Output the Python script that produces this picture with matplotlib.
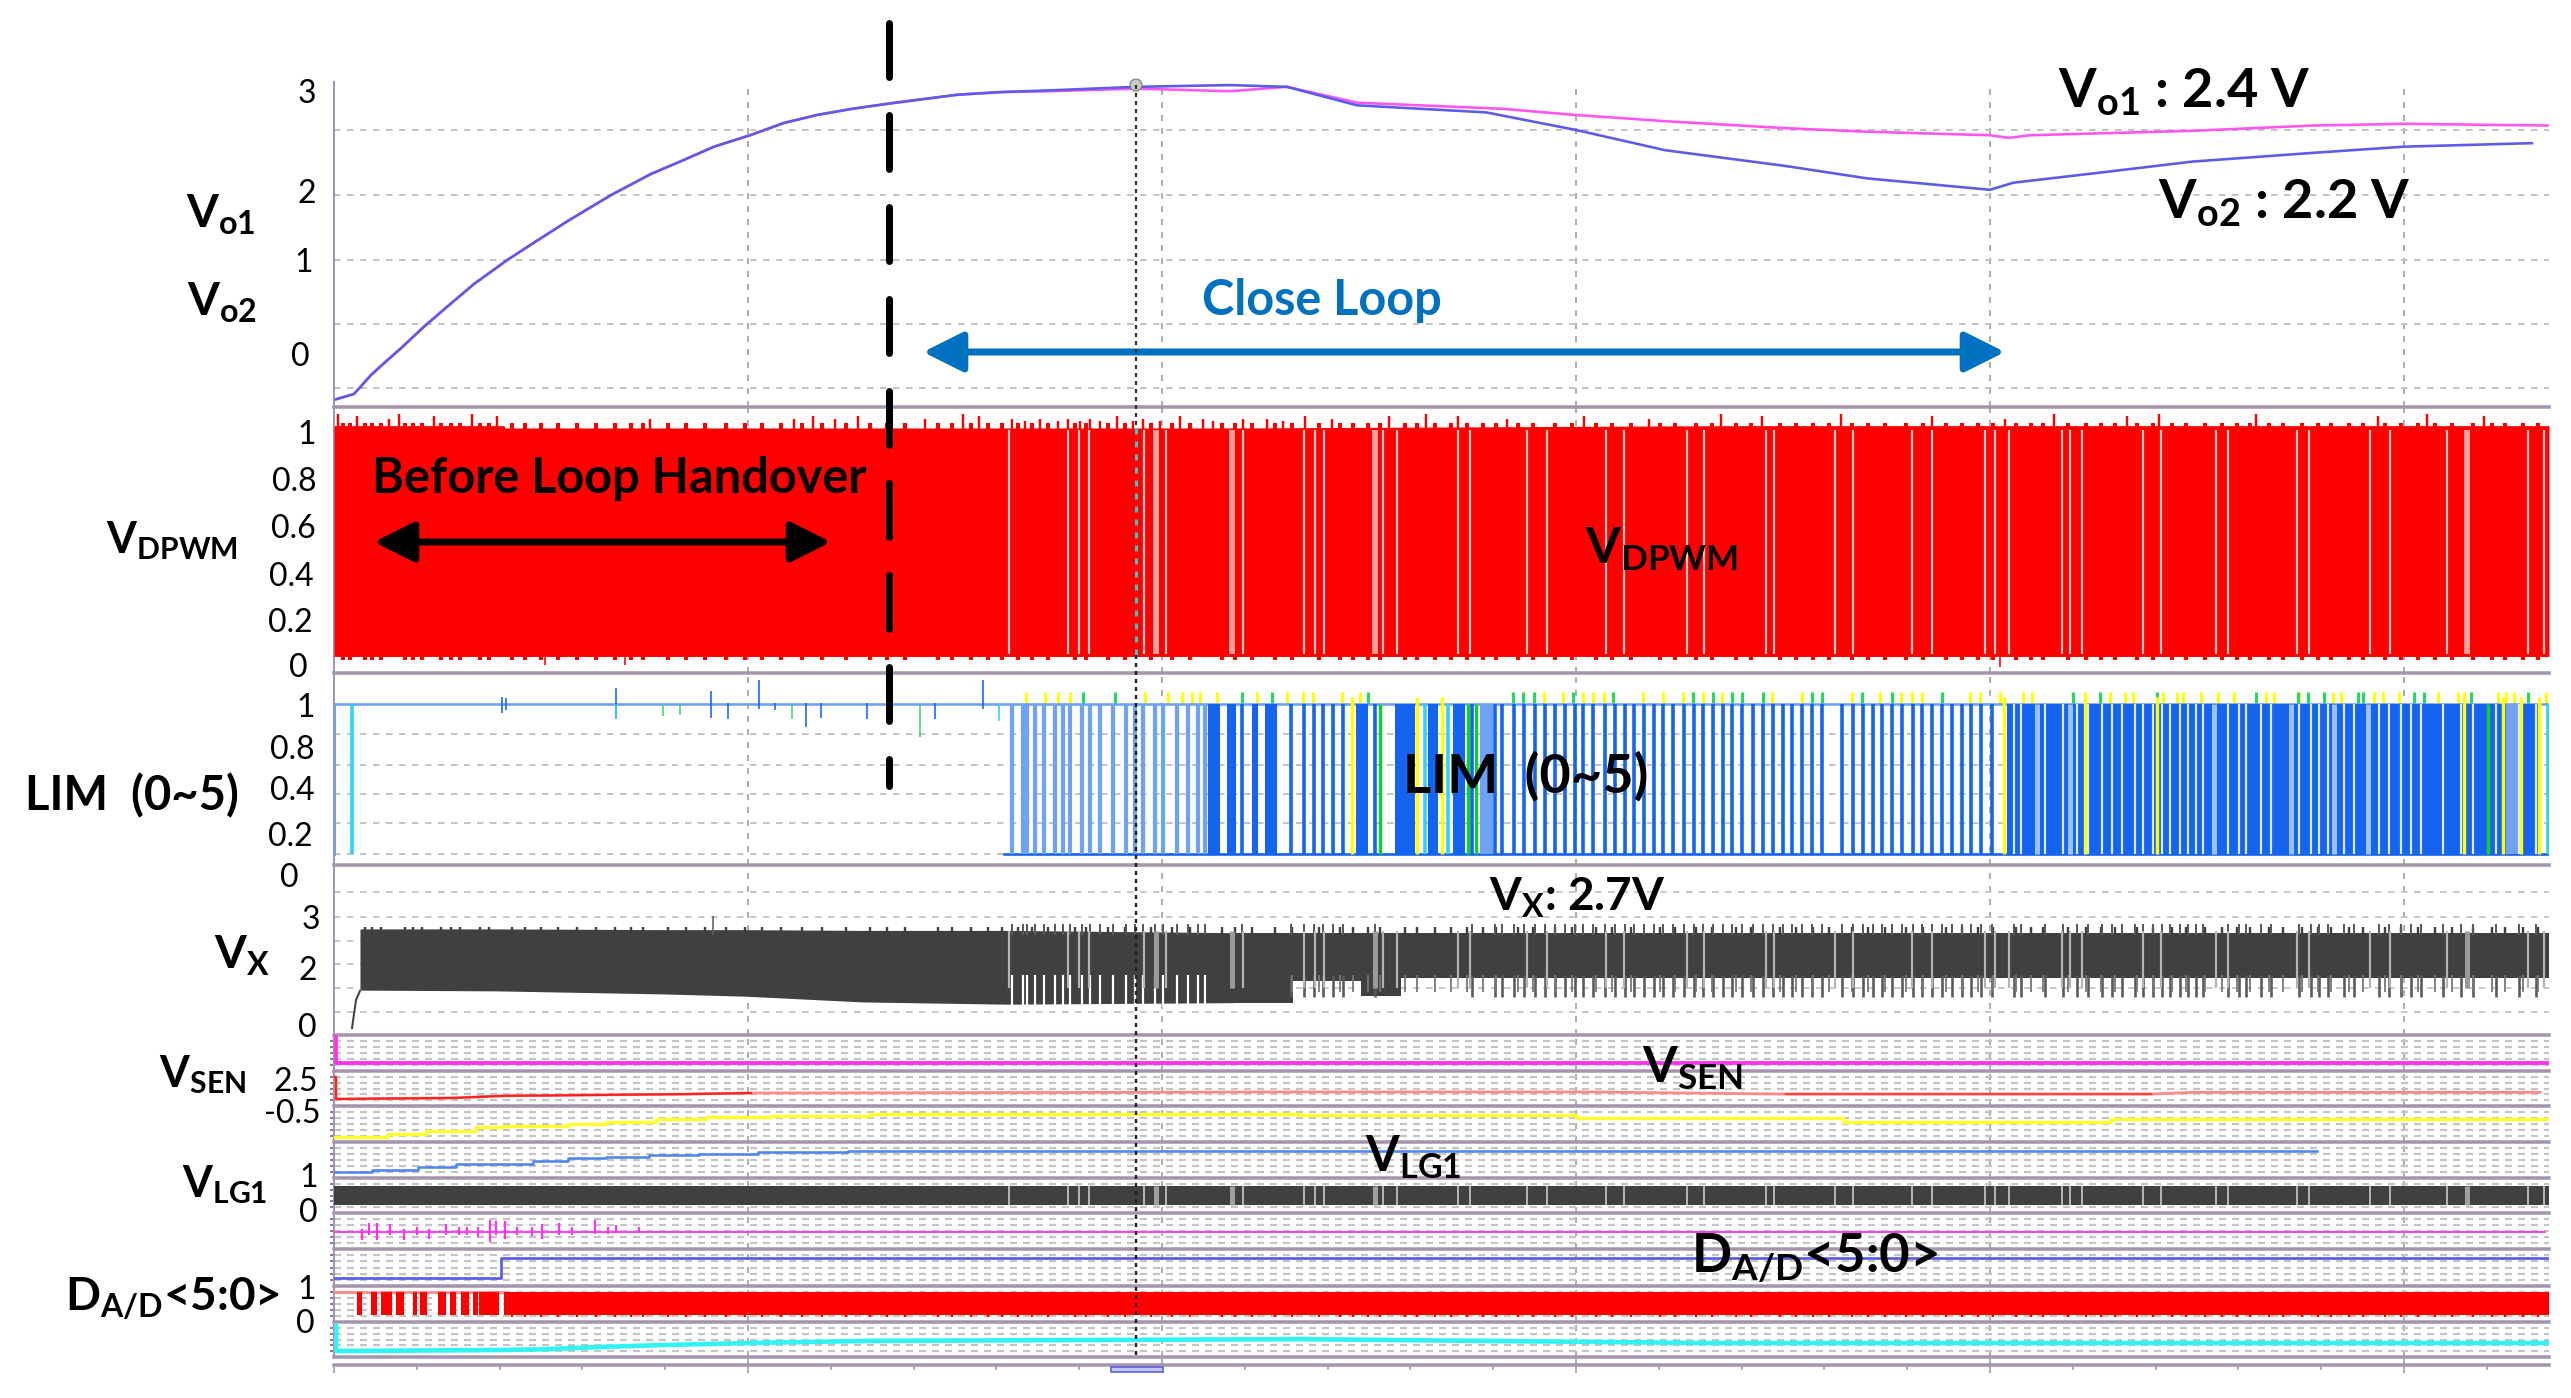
#!/usr/bin/env python3
"""Start-up waveforms of the dual output converter (scope capture with annotations)."""

import matplotlib
matplotlib.use("Agg")
import matplotlib.pyplot as plt
from matplotlib.patches import Circle, FancyArrowPatch, Rectangle
from matplotlib.ticker import MultipleLocator

W, H = 2571, 1398
PX = 0.72  # one pixel in points at dpi 100
LEFT, RIGHT = 334, 2549
SPAN = RIGHT - LEFT
MAJOR = 414

plt.rcParams["font.family"] = ["Lato", "DejaVu Sans"]
plt.rcParams["mathtext.fontset"] = "custom"
plt.rcParams["mathtext.rm"] = "Lato:bold"
plt.rcParams["mathtext.default"] = "rm"
plt.rcParams["lines.scale_dashes"] = False

# ---- data (time axis is in 1/414 of a division) ----
rise_t = [2, 20, 37, 50, 67, 90, 113, 140, 173, 200, 233, 277, 317, 350, 380, 416, 450, 483, 518, 555, 623, 666]
rise_v = [-0.48, -0.42, -0.205, -0.07, 0.10, 0.345, 0.57, 0.83, 1.10, 1.30, 1.54, 1.84, 2.08, 2.24, 2.39, 2.52, 2.66, 2.75, 2.82, 2.88, 2.98, 3.01]
vo2_t = [716, 802, 896, 953, 1023, 1152, 1242, 1331, 1452, 1533, 1656, 1679, 1777, 1858, 1979, 2070, 2198]
vo2_v = [3.03, 3.07, 3.09, 3.07, 2.86, 2.78, 2.58, 2.35, 2.17, 2.03, 1.90, 1.98, 2.11, 2.22, 2.32, 2.39, 2.43]
vo1_t = [716, 802, 896, 953, 1023, 1169, 1242, 1331, 1452, 1533, 1656, 1675, 1696, 1858, 1979, 2070, 2215]
vo1_v = [3.02, 3.05, 3.02, 3.07, 2.89, 2.82, 2.75, 2.68, 2.60, 2.56, 2.52, 2.49, 2.52, 2.57, 2.63, 2.65, 2.63]
vo_grid = [2.58, 1.84, 1.1, 0.375, -0.35]

pwm_edge_t = [0, 170, 171, 900, 1400, 2215]
pwm_top = [1.04, 1.04, 1.03, 1.03, 1.04, 1.04]
pwm_bottom = [0.05, 0.05, 0.05, 0.05, 0.05, 0.05]
pwm_gaps = [675, 734, 745, 755, 810, 832, 909, 970, 981, 990, 1049, 1063, 1124, 1136, 1193, 1213,
            1272, 1290, 1353, 1370, 1432, 1440, 1501, 1519, 1578, 1598, 1651, 1661, 1675, 1728,
            1736, 1748, 1809, 1827, 1882, 1894, 1963, 1975, 2036, 2056, 2113, 2194, 2210]
pwm_pale_gaps = [822, 898, 1041, 2133]
pwm_spike_t = [4, 23, 55, 65, 100, 138, 163, 316, 460, 479, 501, 524, 591, 629, 645, 678, 691, 706,
               724, 734, 746, 756, 766, 783, 799, 809, 826, 846, 869, 879, 909, 933, 949, 971, 998,
               1055, 1092, 1124, 1173, 1250, 1315, 1387, 1428, 1507, 1598, 1671, 1720, 1793, 1825,
               1922, 2044, 2093, 2150]
pwm_spike_v = [1.09, 1.08, 1.07, 1.09, 1.08, 1.09, 1.08, 1.07, 1.07, 1.08, 1.07, 1.08, 1.07, 1.09,
               1.08, 1.07, 1.06, 1.07, 1.06, 1.07, 1.06, 1.07, 1.06, 1.08, 1.06, 1.07, 1.06, 1.08,
               1.07, 1.06, 1.07, 1.07, 1.06, 1.08, 1.07, 1.08, 1.09, 1.08, 1.07, 1.08, 1.07, 1.09,
               1.08, 1.09, 1.08, 1.07, 1.09, 1.08, 1.09, 1.09, 1.08, 1.09, 1.08]
pwm_fuzz_t = [9, 16, 31, 38, 47, 71, 79, 88, 107, 117, 126, 146, 155, 178, 191, 207, 224, 243, 262,
              281, 297, 309, 334, 352, 371, 392, 411, 428, 447, 468, 488, 512, 536, 553, 571, 604,
              618, 637, 654, 668, 684, 698, 714, 741, 752, 774, 791, 817, 838, 856, 888, 901, 918,
              941, 958, 985, 1006, 1019, 1034, 1046, 1071, 1083, 1101, 1117, 1133, 1149, 1162, 1184,
              1199, 1221, 1238, 1262, 1278, 1297, 1326, 1341, 1362, 1378, 1402, 1417, 1446, 1462,
              1479, 1495, 1518, 1534, 1551, 1572, 1589, 1612, 1628, 1644, 1659, 1682, 1697, 1709,
              1734, 1752, 1767, 1781, 1803, 1819, 1838, 1852, 1871, 1888, 1903, 1916, 1935, 1949,
              1968, 1984, 1997, 2015, 2029, 2051, 2067, 2084, 2101, 2118, 2139, 2158, 2171, 2189, 2204]
pwm_dip_t = [211, 291, 1666]
pwm_dip_v = [0.013, 0.013, 0.005]

lim_grid = [0.0, 0.207, 0.4, 0.593, 0.8]
lim_pale = [678, 689, 693, 701, 710, 721, 729, 736, 748, 756, 766, 779, 792, 801, 809, 821, 829,
            843, 854, 864, 871]
lim_strong = [908, 957, 970, 980, 989, 999, 1009, 1041, 1138, 1161, 1168, 1180, 1190, 1201, 1211,
              1221, 1231, 1241, 1249, 1259, 1271, 1281, 1291, 1300, 1310, 1320, 1329, 1339, 1350,
              1360, 1369, 1379, 1389, 1398, 1408, 1419, 1429, 1439, 1449, 1458, 1468, 1478, 1488,
              1508, 1519, 1529, 1539, 1548, 1558, 1568, 1579, 1588, 1598, 1608, 1618, 1628, 1637,
              1647, 1658]
lim_solid_start = [874, 893, 918, 931, 1022, 1061, 1094, 1119, 1673]
lim_solid_end = [886, 902, 924, 943, 1034, 1081, 1104, 1131, 2205]
lim_pale_start = [1146, 2172]
lim_pale_end = [1159, 2184]
lim_gaps = [1680, 1687, 1711, 1729, 1743, 1754, 1768, 1778, 1788, 1801, 1809, 1819, 1828, 1836,
            1846, 1854, 1862, 1869, 1894, 1905, 1912, 1927, 1937, 1965, 1977, 1985, 1994, 2010,
            2020, 2045, 2055, 2067, 2077, 2087, 2109, 2127, 2139, 2162, 2185, 2202]
lim_soft_gaps = [1703, 1736, 1880, 1957, 2000, 2034]
lim_yellow = [1018, 1083, 1108, 1670, 1751, 1823, 2130, 2169, 2187, 2205]
lim_green = [1046, 1134, 1142, 2154]
lim_cyan = [18, 1091, 1114, 2214]
tip_yellow = [692, 711, 724, 736, 811, 834, 848, 858, 866, 883, 923, 953, 969, 979, 1008, 1026,
              1189, 1210, 1229, 1249, 1259, 1270, 1309, 1329, 1349, 1359, 1369, 1388, 1438, 1468,
              1518, 1546, 1567, 1578, 1588, 1636, 1646, 1666, 1689, 1698, 1751, 1776, 1791, 1799,
              1829, 1843, 1849, 1867, 1884, 1900, 1932, 1940, 1965, 1999, 2007, 2040, 2049, 2065,
              2104, 2124, 2130, 2164, 2172, 2180, 2212]
tip_green = [749, 781, 908, 938, 1034, 1179, 1189, 1200, 1239, 1279, 1359, 1379, 1398, 1408, 1429,
             1478, 1488, 1528, 1558, 1608, 1739, 1766, 1823, 1922, 1964, 1974, 1990, 2024, 2029,
             2080, 2090, 2137, 2194]
lim_blip_t = [168, 172, 282, 377, 394, 425, 441, 472, 487, 533, 601, 649]
lim_blip_lo = [0.94, 0.96, 0.90, 0.91, 0.90, 0.97, 0.96, 0.85, 0.91, 0.90, 0.90, 0.97]
lim_blip_hi = [1.05, 1.04, 1.11, 1.09, 1.01, 1.16, 1.01, 1.01, 1.01, 1.01, 1.01, 1.16]
lim_green_t = [329, 346, 458, 586]
lim_green_lo = [0.92, 0.93, 0.90, 0.78]
lim_cyan_t = [282, 665]
lim_cyan_lo = [0.90, 0.89]

vx_grid = [3.63, 2.97, 2.34, 1.74, 1.11, 0.47]
vx_start_t = [18, 22, 26]
vx_start_v = [0.05, 0.79, 1.03]
vx_t = [26, 163, 329, 412, 528, 673, 900]
vx_low = [1.05, 1.03, 0.95, 0.89, 0.74, 0.68, 0.72]
vx_high = [2.66, 2.66, 2.64, 2.64, 2.62, 2.62, 2.56]
vx_late_t = [900, 959, 1027, 1067, 2215]
vx_late_low = [0.72, 1.30, 0.89, 1.37, 1.37]
vx_late_high = [2.56, 2.56, 2.56, 2.56, 2.56]

sen_t = [0, 2, 2, 2215]
sen_v = [0.95, 0.95, 0.22, 0.22]
red_t = [0, 2, 2, 119, 169, 353, 417, 966, 1258, 1452, 1817, 1858, 2206]
red_v = [0.83, 0.83, 0.20, 0.23, 0.29, 0.34, 0.37, 0.40, 0.40, 0.34, 0.34, 0.39, 0.39]
yellow_t = [0, 38, 54, 92, 142, 169, 234, 272, 322, 372, 437, 536, 966, 1242, 1509, 1777, 2215]
yellow_v = [0.14, 0.14, 0.22, 0.30, 0.42, 0.44, 0.50, 0.55, 0.64, 0.69, 0.72, 0.78, 0.75, 0.67, 0.55, 0.64, 0.67]
lg_level_t = [0, 38, 84, 122, 199, 234, 272, 315, 365, 424, 514, 1983]
lg_level_v = [0.17, 0.22, 0.31, 0.39, 0.47, 0.56, 0.58, 0.64, 0.67, 0.72, 0.75, 0.75]
lg_band = [0.23, 0.77]
noise_t = [28, 35, 43, 56, 70, 83, 95, 112, 125, 133, 144, 156, 162, 171, 183, 198, 208, 225, 238, 261, 274, 282, 305]
noise_lo = [0.25, 0.40, 0.25, 0.38, 0.25, 0.38, 0.27, 0.40, 0.38, 0.40, 0.34, 0.20, 0.38, 0.27, 0.38, 0.36, 0.28, 0.38, 0.40, 0.42, 0.42, 0.44, 0.44]
noise_hi = [0.55, 0.72, 0.72, 0.70, 0.55, 0.60, 0.55, 0.70, 0.60, 0.60, 0.62, 0.80, 0.78, 0.78, 0.62, 0.60, 0.70, 0.72, 0.62, 0.80, 0.62, 0.66, 0.62]
dig_t = [0, 167, 167, 2215]
dig_v = [0.22, 0.22, 0.76, 0.76]
da_band = [0.19, 0.83]
da_burst_start = [23, 37, 47, 62, 79, 86, 104, 116, 127, 139, 145, 170]
da_burst_end = [28, 43, 58, 70, 83, 93, 112, 122, 135, 144, 165, 2215]
cyan_t = [0, 2, 2, 167, 209, 270, 328, 414, 538, 966, 1371, 2215]
cyan_v = [0.90, 0.90, 0.17, 0.20, 0.22, 0.29, 0.34, 0.40, 0.46, 0.51, 0.40, 0.40]

# ---- styles ----
SEP = "#a594ad"
GRID = "#c4c4c4"
DARK = "#404040"
RED = "#ff0000"
ROYAL = "#1464f0"
PALE = "#6ea2f4"
YELLOW = "#ffff00"

fig = plt.figure(figsize=(W / 100, H / 100), dpi=100, facecolor="white")


def panel(top, bottom, ylim, ticks=None):
    ax = fig.add_axes([LEFT / W, 1 - bottom / H, SPAN / W, (bottom - top) / H])
    ax.patch.set_alpha(0)
    ax.set_xlim(0, SPAN)
    ax.set_ylim(*ylim)
    ax.set_xticks([])
    ax.set_yticks([])
    for name in ("top", "right"):
        ax.spines[name].set_visible(False)
    ax.spines["bottom"].set_color(SEP)
    ax.spines["bottom"].set_linewidth(3.5 * PX)
    ax.spines["left"].set_color(SEP)
    ax.spines["left"].set_linewidth(2 * PX)
    for k in range(1, 6):
        ax.axvline(k * MAJOR, color="#9a9a9a", lw=1.6 * PX, ls=(0, (6 * PX, 7 * PX)), zorder=1)
    if ticks:
        ax.set_yticks(ticks, minor=True)
        ax.tick_params(axis="y", which="minor", length=4 * PX, width=2 * PX, color="#8d7a96")
    return ax


def h_grid(ax, levels, on=6.5, off=6.5, lw=2.0):
    for lev in levels:
        ax.axhline(lev, color=GRID, lw=lw * PX, ls=(0, (on * PX, off * PX)), zorder=1)


def spans(ax, starts, ends, low, high, color, z=3):
    for a, b in zip(starts, ends):
        ax.fill_between([a, b], low, high, color=color, lw=0, zorder=z)


# Vo1 / Vo2
ax1 = panel(82, 407, (-0.568, 3.125))
h_grid(ax1, vo_grid)
ax1.plot(rise_t + vo1_t, rise_v + vo1_v, color="#ff55ee", lw=2.6 * PX, zorder=3)
ax1.plot(rise_t + vo2_t, rise_v + vo2_v, color="#5c5cea", lw=2.6 * PX, zorder=4)

# VDPWM
ax2 = panel(407, 673, (-0.021, 1.12))
ax2.fill_between(pwm_edge_t, pwm_bottom, pwm_top, color=RED, lw=0, zorder=3)
ax2.vlines(pwm_spike_t, 1.0, pwm_spike_v, color=RED, lw=2.4 * PX, zorder=3)
ax2.vlines(pwm_fuzz_t, 1.0, 1.052, color=RED, lw=4 * PX, zorder=3)
ax2.vlines(pwm_fuzz_t, 0.035, 0.1, color=RED, lw=4 * PX, zorder=3)
ax2.vlines(pwm_dip_t, pwm_dip_v, 0.1, color=RED, lw=1.6 * PX, zorder=3)
ax2.vlines(pwm_gaps, 0.06, 1.02, color="#ffc8c8", lw=2.2 * PX, zorder=4)
ax2.vlines(pwm_pale_gaps, 0.06, 1.02, color="#ff9c9c", lw=6 * PX, zorder=4)

# LIM
ax3 = panel(673, 865, (-0.073, 1.207))
h_grid(ax3, lim_grid)
ax3.plot([0, SPAN], [1, 1], color="#6ea2f4", lw=2.6 * PX, zorder=3)
ax3.plot([670, SPAN], [0, 0], color=ROYAL, lw=2.6 * PX, zorder=3)
ax3.plot([0, 0], [0, 1], color=PALE, lw=3 * PX, zorder=3)
ax3.vlines(tip_yellow, 1.0, 1.08, color=YELLOW, lw=3 * PX, zorder=2)
ax3.vlines(tip_green, 1.0, 1.08, color="#22dd55", lw=3 * PX, zorder=2)
ax3.vlines(lim_blip_t, lim_blip_lo, lim_blip_hi, color=ROYAL, lw=1.6 * PX, zorder=3)
ax3.vlines(lim_green_t, lim_green_lo, 1.0, color="#33dd66", lw=1.6 * PX, zorder=3)
ax3.vlines(lim_cyan_t, lim_cyan_lo, 1.0, color="#33ccff", lw=1.6 * PX, zorder=3)
ax3.vlines(lim_pale, 0, 1, color=PALE, lw=4.2 * PX, zorder=3)
ax3.vlines(lim_strong, 0, 1, color=ROYAL, lw=3.6 * PX, zorder=3)
spans(ax3, lim_solid_start, lim_solid_end, 0, 1, ROYAL)
spans(ax3, lim_pale_start, lim_pale_end, 0, 1, PALE)
ax3.vlines(lim_soft_gaps, 0, 1, color="#9cc0fa", lw=5 * PX, zorder=4)
ax3.vlines(lim_gaps, 0, 1, color="#dfeaff", lw=2.2 * PX, zorder=4)
ax3.vlines(lim_yellow, 0, 1.05, color=YELLOW, lw=3.4 * PX, zorder=5)
ax3.vlines(lim_green, 0, 1, color="#10d030", lw=3.4 * PX, zorder=5)
ax3.vlines(lim_cyan, 0, 1, color="#30d0ff", lw=3.6 * PX, zorder=5)

# Vx
ax4 = panel(865, 1035, (-0.13, 4.34))
h_grid(ax4, vx_grid, lw=1.8)
ax4.plot(vx_start_t, vx_start_v, color=DARK, lw=2 * PX, zorder=3)
ax4.fill_between(vx_t, vx_low, vx_high, color=DARK, lw=0, zorder=3)
ax4.fill_between(vx_late_t, vx_late_low, vx_late_high, step="post", color=DARK, lw=0, zorder=3)
all_pulses = lim_pale + lim_strong + lim_gaps
ax4.vlines([p for p in pwm_fuzz_t if p > 26], 2.5, 2.72, color=DARK, lw=2.4 * PX, zorder=3)
ax4.vlines(all_pulses, 2.5, 2.8, color="#5a5a5a", lw=2 * PX, zorder=3)
ax4.vlines([p for p in all_pulses if p > 950], 0.88, 1.45, color="#5a5a5a", lw=2.6 * PX, zorder=3)
ax4.vlines([p for p in pwm_fuzz_t if p > 950], 1.0, 1.45, color="#777777", lw=1.8 * PX, zorder=3)
ax4.vlines([p for p in all_pulses if p < 900], 0.6, 1.45, color="white", lw=2.2 * PX, zorder=4)
ax4.vlines(pwm_gaps, 1.1, 2.6, color="#b4b4b4", lw=2.2 * PX, zorder=4)
ax4.vlines(pwm_pale_gaps, 1.1, 2.6, color="#9a9a9a", lw=5 * PX, zorder=4)
ax4.vlines([379], 2.5, 3.0, color="#606060", lw=1.6 * PX, zorder=3)

# digital rows
row_edges = [1035, 1071, 1106, 1142, 1178, 1213, 1249, 1286, 1322, 1357]
row_grid = [0.17, 0.33, 0.5, 0.67, 0.83]
rows = []
for top, bottom in zip(row_edges[:-1], row_edges[1:]):
    ax = panel(top, bottom, (0, 1), row_grid)
    h_grid(ax, row_grid, on=7, off=6, lw=2.2)
    rows.append(ax)

rows[0].plot(sen_t, sen_v, color="#ff33ee", lw=3.8 * PX, zorder=3)
rows[1].plot(red_t, red_v, color="#ff8a8a", lw=2.8 * PX, zorder=3)
rows[1].plot(red_t[:7], red_v[:7], color="#ff2020", lw=2.2 * PX, zorder=4)
rows[1].plot(red_t[9:11], red_v[9:11], color="#ff4040", lw=2.2 * PX, zorder=4)
rows[2].plot(yellow_t, yellow_v, color="#ffff30", lw=3.4 * PX, drawstyle="steps-post", zorder=3)
rows[3].plot(lg_level_t, lg_level_v, color="#4f86ef", lw=2.6 * PX, drawstyle="steps-post", zorder=3)
rows[4].fill_between([0, SPAN], lg_band[0], lg_band[1], color=DARK, lw=0, zorder=3)
rows[4].vlines(pwm_gaps, lg_band[0], lg_band[1], color="#c0c0c0", lw=1.8 * PX, zorder=4)
rows[4].vlines(pwm_pale_gaps, lg_band[0], lg_band[1], color="#a0a0a0", lw=5 * PX, zorder=4)
rows[5].plot([0, RIGHT - LEFT - 4], [0.47, 0.47], color="#ff44ee", lw=2 * PX, zorder=3)
rows[5].vlines(noise_t, noise_lo, noise_hi, color="#ff33ee", lw=2.2 * PX, zorder=3)
rows[6].plot(dig_t, dig_v, color="#5656e8", lw=2.6 * PX, zorder=3)
rows[7].plot([0, 170], [da_band[1], da_band[1]], color="#ff9090", lw=3 * PX, zorder=3)
spans(rows[7], da_burst_start, da_burst_end, da_band[0], da_band[1], RED)
rows[7].vlines([p for p in pwm_fuzz_t if p > 170], da_band[0] - 0.05, da_band[0], color=RED, lw=2.4 * PX, zorder=3)
rows[8].plot(cyan_t, cyan_v, color="#30f4f4", lw=4.6 * PX, zorder=3)

# time ruler at the bottom
ruler = panel(1357, 1365, (0, 1))
ruler.xaxis.set_major_locator(MultipleLocator(MAJOR))
ruler.xaxis.set_minor_locator(MultipleLocator(MAJOR / 5))
ruler.tick_params(axis="x", which="major", length=8 * PX, width=1.6 * PX, color=SEP, labelbottom=False)
ruler.tick_params(axis="x", which="minor", length=5 * PX, width=1.6 * PX, color=SEP)
ruler.spines["left"].set_visible(False)

# annotations, in picture pixels
over = fig.add_axes([0, 0, 1, 1], zorder=10)
over.patch.set_alpha(0)
over.set_xlim(0, W)
over.set_ylim(H, 0)
over.axis("off")

CURSOR = 1136
over.plot([CURSOR, CURSOR], [85, 428], color="#303030", lw=2.2 * PX, ls=(0, (4 * PX, 4 * PX)))
over.plot([CURSOR, CURSOR], [428, 655], color="#3fc4c4", lw=3 * PX, ls=(0, (6 * PX, 7 * PX)))
over.plot([CURSOR, CURSOR], [655, 1357], color="#202020", lw=2.4 * PX, ls=(0, (4 * PX, 4 * PX)))
over.add_patch(Circle((CURSOR, 85), 6, fc="#c8c8c8", ec="#808080", lw=1.2 * PX))
over.add_patch(Rectangle((1111, 1367), 52, 5, fc="#c4c8f4", ec="#5a5ad8", lw=1.6 * PX))

# loop handover marker
over.plot([889, 889], [23, 786], color="black", lw=7 * PX, solid_capstyle="round",
          dash_capstyle="round", ls=(0, (54 * PX, 38 * PX)))


def double_arrow(x0, x1, y, color):
    over.add_patch(FancyArrowPatch((x0, y), (x1, y), arrowstyle="<|-|>,head_length=%f,head_width=%f" % (34 * PX, 17 * PX),
                                   mutation_scale=1, color=color, lw=7 * PX, shrinkA=0, shrinkB=0))


double_arrow(374, 831, 542, "black")
double_arrow(923, 2005, 352, "#0070c0")

tick_text = ["3", "2", "1", "0", "1", "0.8", "0.6", "0.4", "0.2", "0", "1", "0.8", "0.4", "0.2", "0",
             "3", "2", "0", "2.5", "-0.5", "1", "0", "1", "0"]
tick_right = [316, 316, 313, 310, 316, 317, 316, 314, 313, 308, 315, 315, 315, 313, 299,
              320, 317, 317, 318, 321, 318, 318, 316, 315]
tick_y = [94, 194, 263, 357, 435, 482, 529, 577, 623, 668, 708, 750, 791, 837, 878,
          920, 971, 1028, 1082, 1114, 1178, 1213, 1290, 1324]
for s, x, y in zip(tick_text, tick_right, tick_y):
    over.text(x, y, s, ha="right", va="center", fontsize=23, color="black")

labels = [
    (186, 228, r"V$_{o1}$", 33, "black"),
    (187, 316, r"V$_{o2}$", 33, "black"),
    (106, 553, r"V$_{DPWM}$", 31, "black"),
    (372, 493, "Before Loop Handover", 35, "black"),
    (1202, 315, "Close Loop", 35, "#0070c0"),
    (2058, 108, r"V$_{o1}$ : 2.4 V", 39, "black"),
    (2158, 219, r"V$_{o2}$ : 2.2 V", 39, "black"),
    (1585, 563, r"V$_{DPWM}$", 36, "black"),
    (25, 810, "LIM  (0~5)", 34, "black"),
    (1403, 793, "LIM  (0~5)", 39, "black"),
    (214, 969, r"V$_{X}$", 33, "black"),
    (1489, 911, r"V$_{X}$: 2.7V", 33, "black"),
    (159, 1087, r"V$_{SEN}$", 31, "black"),
    (1642, 1082, r"V$_{SEN}$", 36, "black"),
    (182, 1197, r"V$_{LG1}$", 31, "black"),
    (1365, 1171, r"V$_{LG1}$", 35, "black"),
    (65, 1311, r"D$_{A/D}$<5:0>", 33, "black"),
    (1691, 1273, r"D$_{A/D}$<5:0>", 38, "black"),
]
for x, y, s, size, color in labels:
    over.text(x, y, s, ha="left", va="baseline", fontsize=size, fontweight="bold", color=color)

fig.savefig("out.png", dpi=100)
